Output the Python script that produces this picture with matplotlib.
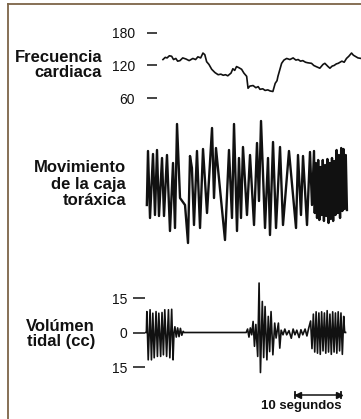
import matplotlib
matplotlib.use("Agg")
import matplotlib.pyplot as plt
from matplotlib.lines import Line2D

# ---- datos (tiempo en segundos) ----
# frecuencia cardiaca (lpm)
fc_t = [3.9, 4.4, 4.8, 5.3, 5.8, 6.2, 6.7, 7.1, 7.6, 8.2, 8.9, 9.6, 10.4, 11.0, 11.5, 12.1,
        12.6, 13.0, 13.4, 13.9, 14.5, 15.2, 15.9, 16.5, 17.0, 17.5, 18.0, 18.7, 19.1, 19.5,
        19.9, 20.4, 21.0, 21.5, 22.1, 22.4, 22.8, 23.5, 24.1, 24.6, 25.0, 25.6, 26.1, 26.7,
        27.2, 27.8, 28.3, 28.7, 28.9, 29.3, 29.7, 30.2, 30.8, 31.5, 32.2, 32.8, 33.3, 33.8,
        34.3, 34.9, 35.4, 36.2, 36.7, 37.2, 38.0, 38.7, 39.1, 39.8, 40.2, 40.7, 41.1, 41.6,
        42.0, 42.8, 43.3, 43.8, 44.3, 44.9, 45.3, 45.7, 46.3, 47.0]
fc_v = [131, 135, 134, 138, 137, 131, 133, 128, 129, 134, 132, 129, 133, 131, 136, 134,
        143, 140, 127, 122, 113, 107, 103, 104, 102, 103, 101, 106, 114, 111,
        118, 116, 113, 106, 100, 78, 82, 83, 79, 81, 76, 77, 74, 75,
        73, 72, 87, 92, 100, 112, 124, 130, 133, 131, 134, 130, 131, 128,
        129, 126, 125, 124, 120, 118, 115, 122, 124, 118, 115, 119, 120, 123,
        124, 128, 126, 133, 137, 143, 139, 137, 134, 133]

# movimiento de la caja toracica (unidades arbitrarias)
mov_t = [0.4, 0.65, 1.09, 1.74, 2.17, 2.61, 3.04, 3.70, 4.13, 4.78, 5.43, 6.09, 6.52, 6.96,
         7.61, 8.70, 9.35, 9.78, 10.2, 10.65, 11.30, 11.96, 12.61, 13.48, 14.57, 15.0,
         15.43, 17.39, 18.26, 18.91, 19.35, 20.0, 20.43, 20.87, 21.30, 22.17, 22.83, 23.70,
         24.35, 24.78, 25.22, 26.09, 26.74, 27.17, 27.83, 28.48, 29.35, 30.0, 31.30, 32.83,
         33.26, 33.91, 34.35, 35.22, 35.87, 36.30, 36.74,
         36.9, 37.15, 37.4, 37.65, 37.9, 38.15, 38.4, 38.65, 38.9, 39.15, 39.4, 39.65,
         39.9, 40.15, 40.4, 40.65, 40.9, 41.15, 41.4, 41.65, 41.9, 42.15, 42.4, 42.65,
         42.9, 43.15, 43.4, 43.65, 43.9]
mov_v = [-20, 34, -33, 31, -30, 35, -31, 27, -31, 30, -46, 22, -43, 61,
         -13, -20, -58, 29, 17, -40, 34, -43, 36, -28, 57, -13,
         37, -55, 35, -33, 61, -46, 27, -33, 38, -30, 30, -40,
         42, -16, 64, -43, 27, -50, 43, -43, 38, -40, 34, -43,
         30, -30, 29, -40, 33, -20, 34,
         -28, 22, -33, 25, -35, 18, -30, 25, -36, 20, -31, 26,
         -38, 22, -34, 27, -36, 24, -30, 35, -28, 30, -33, 37,
         -26, 36, -24, 30, -25]

# volumen tidal (cc)
vt_t = [0.0, 0.3, 0.4, 0.7, 1.1, 1.4, 1.7, 2.0, 2.4, 2.7, 3.0, 3.4, 3.7, 4.0, 4.3, 4.7,
        5.1, 5.4, 5.8, 6.1, 6.3, 6.5, 6.8, 7.1, 7.4, 7.7, 8.0, 8.3, 8.5, 22.0,
        22.3, 22.6, 22.9, 23.2, 23.5, 23.8, 24.1, 24.5, 24.8, 25.1, 25.5, 25.8, 26.1, 26.5,
        26.8, 27.1, 27.4, 27.8, 28.2, 28.5, 29.0, 29.3, 29.6, 30.0, 30.4, 30.8, 31.3, 31.8,
        32.2, 32.6, 33.0, 33.5, 33.9, 34.3, 34.8, 35.2, 35.6,
        36.0, 36.3, 36.6, 36.9, 37.2, 37.5, 37.8, 38.1, 38.4, 38.7, 39.0, 39.3, 39.6, 39.9,
        40.2, 40.5, 40.8, 41.1, 41.4, 41.7, 42.0, 42.3, 42.6, 42.9, 43.2, 43.4, 43.6]
vt_v = [0, 0, 9.1, -11.9, 9.9, -11.9, 8.4, -11.0, 9.1, -10.4, 8.4, -10.4, 8.7, -9.7, 9.9, -10.4,
        9.9, -11.0, 10.1, -11.9, 0, 2.5, -2.0, 2.0, -1.8, 1.8, -1.2, 0.5, 0, 0,
        1.5, -2.0, 2.0, -1.0, 4.8, -6.0, 3.5, -10.4, 21.5, -17.4, 13.5, -10.9, 11.3, -11.9,
        7.0, -8.3, 9.1, -9.7, 4.1, -2.4, 4.1, -6.8, 1.0, -1.0, 1.5, -1.0, 0.8, -2.5,
        1.5, -1.0, 1.0, -2.2, 1.2, -1.0, 1.5, -1.5, 2.0,
        5.0, -7.0, 8.0, -8.5, 9.0, -9.0, 8.5, -9.5, 9.0, -8.0, 8.5, -9.0, 9.5, -8.5,
        8.0, -9.5, 9.0, -8.5, 8.5, -9.0, 9.0, -8.0, 8.5, -9.5, 7.0, 0, 0]

fc_ticks = [180, 120, 60]
vt_ticks = [15, 0, -15]
vt_ticklabels = ["15", "0", "15"]

# barra de escala (segundos)
bar_start, bar_len = 32.7, 10

W, H = 361, 419          # tamano de la figura en pixeles
PX_S = 4.6               # pixeles por segundo (10 s = 46 px)
X0 = 145                 # pixel donde t = 0


def add_panel(fig, left, top, bottom):
    """crea un eje en coordenadas de pixel, con el tiempo alineado"""
    ax = fig.add_axes([left / W, 1 - bottom / H, (W - left) / W, (bottom - top) / H])
    ax.set_xlim((left - X0) / PX_S, (W - X0) / PX_S)
    ax.patch.set_visible(False)
    for s in ax.spines.values():
        s.set_visible(False)
    ax.set_xticks([])
    return ax


plt.rcParams['font.family'] = ['Liberation Sans', 'DejaVu Sans']
fig = plt.figure(figsize=(W / 100, H / 100), dpi=100)
fig.patch.set_facecolor("white")

ink = "#111111"

# marco marron
frame = "#7d6548"
fig.add_artist(Line2D([8 / W, 1], [1 - 4.5 / H, 1 - 4.5 / H], color=frame, lw=1.3))
fig.add_artist(Line2D([8 / W, 8 / W], [0, 1 - 4.5 / H], color=frame, lw=1.3))

# frecuencia cardiaca
ax1 = add_panel(fig, 157, 33, 98)
ax1.plot(fc_t, fc_v, color=ink, lw=1.2)
ax1.set_ylim(60, 180)
ax1.set_yticks(fc_ticks)
ax1.tick_params(axis='y', direction='out', length=7.5, width=1.1, pad=8.5,
                labelsize=10, color=ink, labelcolor=ink)

# movimiento de la caja toracica
ax2 = add_panel(fig, 145, 115, 255)
ax2.plot(mov_t, mov_v, color=ink, lw=1.7)
ax2.set_ylim(-70, 70)
ax2.set_yticks([])

# volumen tidal
ax3 = add_panel(fig, 145, 275, 390)
ax3.plot(vt_t, vt_v, color=ink, lw=1.2)
ax3.set_ylim(-25, 25)
ax3.set_yticks(vt_ticks)
ax3.set_yticklabels(vt_ticklabels)
ax3.tick_params(axis='y', direction='out', length=8.5, width=1.1, pad=4,
                labelsize=10, color=ink, labelcolor=ink)

# barra de escala: 10 segundos  |<---->|
bx = [bar_start, bar_start + bar_len]
by = -27.2
ax3.plot(bx, [by, by], color=ink, lw=1.1, clip_on=False)
for x in bx:
    ax3.plot([x, x], [by - 1.3, by + 1.3], color=ink, lw=1.3, clip_on=False)
ax3.plot([bx[0] + 0.5], [by], marker='<', ms=4, color=ink, clip_on=False)
ax3.plot([bx[1] - 0.5], [by], marker='>', ms=4, color=ink, clip_on=False)
ax3.text(bx[1] + 0.1, -32.0, "10 segundos", ha='right', va='center', fontsize=9.5,
         fontweight='bold', color=ink, clip_on=False)

# rotulos de cada trazo
lab = dict(ha='right', va='center', fontsize=12, fontweight='bold', color=ink)
fig.text(102 / W, 1 - 65 / H, "Frecuencia\ncardiaca", linespacing=1.0, **lab)
fig.text(126 / W, 1 - 184 / H, "Movimiento\nde la caja\ntoráxica", linespacing=1.12, **lab)
fig.text(95 / W, 1 - 334 / H, "Volúmen\ntidal (cc)", linespacing=1.0, **lab)

fig.savefig("out.png", dpi=100, facecolor="white")
